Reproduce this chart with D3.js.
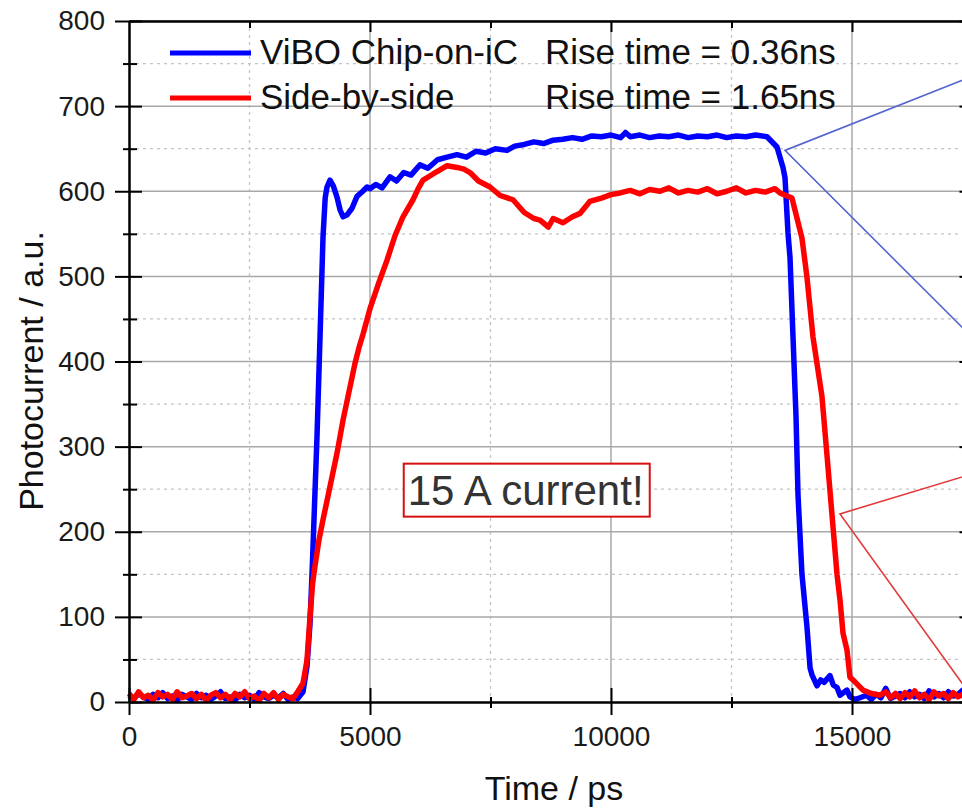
<!DOCTYPE html>
<html>
<head>
<meta charset="utf-8">
<script src="https://cdn.jsdelivr.net/npm/d3@7"></script>
<style>
  html, body { margin: 0; padding: 0; background: #fff; overflow: hidden; }
  svg { display: block; font-family: "Liberation Sans", Arial, sans-serif; }
</style>
</head>
<body>
<svg id="chart"></svg>
<script>
// data: [time ps, photocurrent a.u.]
const viboCurve = [
  [0, 8], [100, 4], [200, 10], [300, 6], [400, 3], [500, 9], [600, 5], [700, 11],
  [800, 4], [900, 7], [1000, 2], [1100, 9], [1200, 6], [1300, 3], [1400, 10], [1500, 5],
  [1600, 8], [1700, 3], [1800, 7], [1900, 12], [2000, 4], [2100, 6], [2200, 2], [2300, 9],
  [2400, 5], [2500, 8], [2600, 3], [2700, 11], [2800, 6], [2900, 4], [3000, 8], [3100, 5],
  [3200, 10], [3300, 3], [3400, 6], [3500, 4], [3610, 12], [3693, 42], [3755, 92],
  [3800, 155], [3900, 311], [3963, 429], [4025, 546], [4070, 592], [4108, 605], [4170, 613],
  [4240, 606], [4315, 593], [4380, 578], [4440, 570], [4520, 572], [4627, 580], [4730, 594],
  [4850, 600], [4938, 605], [5000, 603], [5120, 608], [5250, 604], [5415, 617], [5550, 612],
  [5700, 622], [5850, 619], [6037, 631], [6200, 627], [6400, 637], [6600, 640], [6805, 643],
  [7000, 640], [7200, 647], [7400, 645], [7600, 650], [7842, 648], [8000, 653], [8200, 655],
  [8400, 658], [8600, 656], [8800, 660], [9000, 661], [9200, 663], [9400, 661], [9600, 665],
  [9800, 664], [10000, 666], [10200, 663], [10300, 669], [10400, 664], [10600, 666],
  [10800, 663], [11000, 665], [11200, 664], [11400, 666], [11600, 663], [11800, 665],
  [12000, 664], [12200, 666], [12400, 663], [12600, 665], [12800, 664], [13000, 666],
  [13237, 664], [13444, 652], [13568, 628], [13610, 616], [13672, 551], [13714, 522],
  [13776, 429], [13838, 336], [13880, 243], [13962, 150], [14066, 88], [14130, 40],
  [14170, 32], [14274, 19], [14350, 26], [14420, 23], [14543, 31], [14610, 20], [14690, 17],
  [14751, 8], [14896, 14], [14958, 6], [15060, 3], [15166, 5], [15300, 8], [15400, 3],
  [15500, 9], [15600, 5], [15700, 16], [15800, 4], [15900, 7], [16000, 10], [16100, 5],
  [16200, 12], [16300, 6], [16400, 9], [16500, 4], [16600, 13], [16700, 6], [16800, 10],
  [16900, 5], [17000, 12], [17100, 7], [17200, 9], [17300, 14], [17400, 8]
];

const sideCurve = [
  [0, 10], [100, 3], [200, 12], [300, 5], [400, 8], [500, 2], [600, 11], [700, 6],
  [800, 9], [900, 3], [1000, 12], [1100, 5], [1200, 7], [1300, 10], [1400, 4], [1500, 9],
  [1600, 2], [1700, 8], [1800, 11], [1900, 5], [2000, 9], [2100, 3], [2200, 10], [2300, 6],
  [2400, 12], [2500, 4], [2600, 7], [2700, 2], [2800, 10], [2900, 5], [3000, 11], [3100, 3],
  [3200, 9], [3300, 6], [3400, 4], [3500, 12], [3610, 22], [3693, 49], [3755, 100],
  [3810, 140], [3859, 160], [3940, 190], [4025, 214], [4170, 253], [4315, 292], [4440, 331],
  [4585, 370], [4689, 398], [4780, 418], [4855, 432], [5000, 462], [5180, 492], [5353, 519],
  [5520, 548], [5685, 570], [5892, 590], [6000, 603], [6100, 613], [6300, 620], [6452, 625],
  [6600, 630], [6805, 628], [6950, 626], [7075, 622], [7250, 612], [7490, 605], [7700, 595],
  [7967, 590], [8200, 575], [8400, 568], [8527, 566], [8700, 558], [8800, 568], [9004, 563],
  [9200, 570], [9357, 574], [9560, 588], [9800, 592], [10000, 596], [10187, 598], [10400, 601],
  [10600, 597], [10800, 602], [11017, 600], [11200, 604], [11400, 598], [11600, 601],
  [11800, 599], [12000, 603], [12200, 597], [12400, 600], [12600, 604], [12800, 598],
  [13000, 601], [13200, 599], [13400, 603], [13506, 598], [13755, 592], [13962, 545],
  [14066, 499], [14190, 429], [14377, 359], [14481, 290], [14585, 220], [14689, 150],
  [14751, 120], [14813, 81], [14896, 61], [14958, 29], [15021, 26], [15228, 14], [15400, 10],
  [15581, 8], [15700, 12], [15800, 5], [15900, 10], [16000, 4], [16100, 11], [16200, 6],
  [16300, 13], [16400, 5], [16500, 9], [16600, 3], [16700, 12], [16800, 7], [16900, 10],
  [17000, 4], [17100, 11], [17200, 6], [17300, 9], [17400, 12]
];

const xMajor = [0, 5000, 10000, 15000];
const xMinor = [2500, 7500, 12500, 17500];
const yMajor = [0, 100, 200, 300, 400, 500, 600, 700, 800];
const yMinor = [50, 150, 250, 350, 450, 550, 650, 750];

const seriesNames = ["ViBO Chip-on-iC", "Side-by-side"];
const riseTimes = ["Rise time = 0.36ns", "Rise time = 1.65ns"];
const noteText = "15 A current!";

// zoom pointers to the (cropped) insets: [time, value] of the apex and two far ends
const viboPointer = [[17500, 735], [13610, 648], [17500, 428]];
const sidePointer = [[17500, 268], [14751, 221], [17500, 5]];

const width = 962;
const height = 808;
const margin = { top: 21, left: 129 };
const plotRight = 972.5;
const plotBottom = 702;

const svg = d3.select("#chart").attr("width", width).attr("height", height);

const x = d3.scaleLinear().domain([0, 17500]).range([margin.left, plotRight]);
const y = d3.scaleLinear().domain([0, 800]).range([plotBottom, margin.top]);

// grid
const grid = svg.append("g");
grid.selectAll(".vmin").data(xMinor).join("line")
  .attr("x1", d => x(d)).attr("x2", d => x(d))
  .attr("y1", y(800)).attr("y2", y(0))
  .attr("stroke", "#c4c4c4").attr("stroke-width", 1.3).attr("stroke-dasharray", "3,4");
grid.selectAll(".hmin").data(yMinor).join("line")
  .attr("x1", x(0)).attr("x2", x(17500))
  .attr("y1", d => y(d)).attr("y2", d => y(d))
  .attr("stroke", "#c4c4c4").attr("stroke-width", 1.3).attr("stroke-dasharray", "3,4");
grid.selectAll(".vmaj").data(xMajor.slice(1)).join("line")
  .attr("x1", d => x(d)).attr("x2", d => x(d))
  .attr("y1", y(800)).attr("y2", y(0))
  .attr("stroke", "#a8a8a8").attr("stroke-width", 1.5);
grid.selectAll(".hmaj").data(yMajor.slice(1)).join("line")
  .attr("x1", x(0)).attr("x2", x(17500))
  .attr("y1", d => y(d)).attr("y2", d => y(d))
  .attr("stroke", "#a8a8a8").attr("stroke-width", 1.5);

// traces
const line = d3.line().x(d => x(d[0])).y(d => y(d[1]));

svg.append("path")
  .datum(viboCurve)
  .attr("fill", "none")
  .attr("stroke", "#0000ff")
  .attr("stroke-width", 5.5)
  .attr("stroke-linejoin", "round")
  .attr("d", line);

svg.append("path")
  .datum(sideCurve)
  .attr("fill", "none")
  .attr("stroke", "#ff0000")
  .attr("stroke-width", 5.5)
  .attr("stroke-linejoin", "round")
  .attr("d", line);

// pointer lines
svg.append("path").datum(viboPointer)
  .attr("fill", "none").attr("stroke", "#5566d0").attr("stroke-width", 1.6)
  .attr("d", line);
svg.append("path").datum(sidePointer)
  .attr("fill", "none").attr("stroke", "#e23a3a").attr("stroke-width", 1.6)
  .attr("d", line);

// note box
const note = svg.append("g");
note.append("rect")
  .attr("x", x(5700)).attr("y", y(280))
  .attr("width", 246).attr("height", 53)
  .attr("fill", "#fff").attr("stroke", "#d41010").attr("stroke-width", 2);
note.append("text")
  .attr("x", x(5700) + 4).attr("y", y(280) + 41)
  .attr("font-size", 42).attr("fill", "#333")
  .text(noteText);

// axes
const axisColor = "#000";
function styleAxis(g) {
  g.select(".domain").attr("stroke", axisColor).attr("stroke-width", 2);
  g.selectAll(".tick line").attr("stroke", axisColor).attr("stroke-width", 2);
  g.selectAll(".tick text").attr("fill", "#1a1a1a").attr("font-size", 28)
    .attr("font-family", "\"Liberation Sans\", Arial, sans-serif");
}

// bottom
svg.append("g")
  .attr("transform", `translate(0,${plotBottom})`)
  .call(d3.axisBottom(x).tickValues(xMinor).tickFormat("").tickSize(6).tickSizeOuter(0))
  .call(g => { styleAxis(g); g.selectAll(".tick line").attr("y1", -5); });
svg.append("g")
  .attr("transform", `translate(0,${plotBottom})`)
  .call(d3.axisBottom(x).tickValues(xMajor).tickFormat(d3.format("d")).tickSize(13).tickPadding(11).tickSizeOuter(0))
  .call(g => { styleAxis(g); g.selectAll(".tick line").attr("y1", -14); });

// left
svg.append("g")
  .attr("transform", `translate(${margin.left},0)`)
  .call(d3.axisLeft(y).tickValues(yMinor).tickFormat("").tickSize(6).tickSizeOuter(0))
  .call(g => { styleAxis(g); g.selectAll(".tick line").attr("x1", 8); });
svg.append("g")
  .attr("transform", `translate(${margin.left},0)`)
  .call(d3.axisLeft(y).tickValues(yMajor).tickFormat(d3.format("d")).tickSize(14).tickPadding(10).tickSizeOuter(0))
  .call(g => { styleAxis(g); g.selectAll(".tick line").attr("x1", 13); });

// top (ticks inward, no labels)
svg.append("g")
  .attr("transform", `translate(0,${margin.top})`)
  .call(d3.axisBottom(x).tickValues(xMinor).tickFormat("").tickSize(7).tickSizeOuter(0))
  .call(styleAxis);
svg.append("g")
  .attr("transform", `translate(0,${margin.top})`)
  .call(d3.axisBottom(x).tickValues(xMajor.slice(1)).tickFormat("").tickSize(11).tickSizeOuter(0))
  .call(styleAxis);

// right (ticks inward)
svg.append("g")
  .attr("transform", `translate(${plotRight},0)`)
  .call(d3.axisLeft(y).tickValues(yMajor).tickFormat("").tickSize(13).tickSizeOuter(0))
  .call(g => { styleAxis(g); g.selectAll(".tick line").attr("x2", -13); });

// axis titles
svg.append("text")
  .attr("x", 554).attr("y", 800)
  .attr("text-anchor", "middle")
  .attr("font-size", 34).attr("fill", "#111")
  .text("Time / ps");

svg.append("text")
  .attr("transform", `translate(43,${371}) rotate(-90)`)
  .attr("text-anchor", "middle")
  .attr("font-size", 34).attr("fill", "#111")
  .text("Photocurrent / a.u.");

// legend
const legendColors = ["#0000ff", "#ff0000"];
const legend = svg.append("g");
seriesNames.forEach((name, i) => {
  const cy = 53 + i * 45;
  legend.append("line")
    .attr("x1", 170).attr("x2", 251).attr("y1", cy).attr("y2", cy)
    .attr("stroke", legendColors[i]).attr("stroke-width", 5);
  legend.append("text")
    .attr("x", 260).attr("y", cy + 11)
    .attr("font-size", 35).attr("fill", "#111")
    .text(name);
  legend.append("text")
    .attr("x", 545).attr("y", cy + 11)
    .attr("font-size", 35).attr("fill", "#111")
    .text(riseTimes[i]);
});
</script>
</body>
</html>
